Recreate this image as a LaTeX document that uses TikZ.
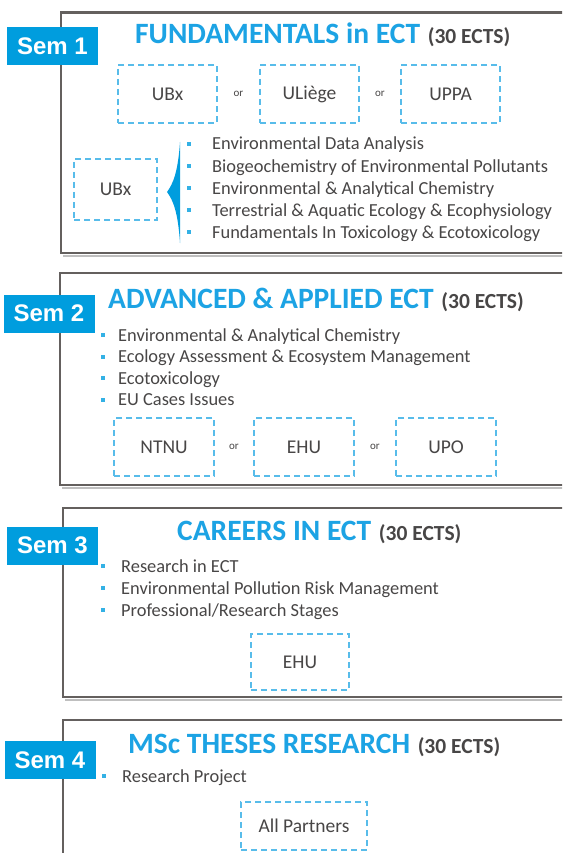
\documentclass[tikz,border=0pt]{standalone}
\usepackage{fontspec}
\setmainfont{Carlito}
\newfontfamily\semfont{Liberation Sans}
\definecolor{semblue}{RGB}{0,157,222}
\definecolor{titleblue}{RGB}{28,163,228}
\definecolor{boxblue}{RGB}{88,188,234}
\definecolor{txtgray}{RGB}{72,70,70}
\definecolor{framegray}{RGB}{100,96,94}
\newcommand{\ects}{\hspace{1pt}{\color{txtgray}\fontsize{21.5}{21.5}\selectfont(30 ECTS)}}
\tikzset{
  semframe/.style={draw=framegray,line width=2.6pt},
  semshadow/.style={draw=black!25,line width=2pt},
  semlabel/.style={fill=semblue,text=white,font=\semfont\bfseries\fontsize{24}{24}\selectfont,
    minimum width=91pt,minimum height=38pt,inner sep=0pt},
  unibox/.style={draw=boxblue,line width=2.2pt,dash pattern=on 6pt off 4pt,text=txtgray,
    font=\fontsize{19.5}{19.5}\selectfont,minimum width=99pt,minimum height=58pt,inner sep=0pt},
  ortext/.style={text=txtgray,font=\fontsize{11}{11}\selectfont,inner sep=0pt},
  titletext/.style={anchor=base west,inner sep=0pt,text=titleblue,font=\bfseries\fontsize{29.5}{29.5}\selectfont},
  listtext/.style={anchor=base west,inner sep=0pt,text=txtgray,font=\fontsize{18.4}{18.4}\selectfont},
  bdot/.style={fill=semblue!80,minimum size=4pt,inner sep=0pt}
}
\begin{document}
\begin{tikzpicture}[x=1pt,y=-1pt]
  \useasboundingbox (0,0) rectangle (562,853);
  \clip (0,0) rectangle (562,853);
  \fill[white] (0,0) rectangle (562,853);

  % rammer
  \foreach \top/\bot/\lft in {12.5/253/61, 273/485/60, 508/697/63, 720/900/63}{
    \draw[semshadow] (\lft+2,\bot+2.5) -- (600,\bot+2.5);
    \draw[semframe] (\lft,\top) rectangle (620,\bot);
  }

  % Sem 1
  \node[semlabel] (sem1) at (52.5,46) {Sem 1};
  \node[titletext] (title1) at (135,44) {FUNDAMENTALS in ECT \ects};
  \node[unibox] (ubx) at (167.5,94) {UBx};
  \node[unibox] (uliege) at (309.5,94) {ULiège};
  \node[unibox] (uppa) at (450.5,94) {UPPA};
  \path (ubx.east) -- node[ortext] (or1) {or} (uliege.west);
  \path (uliege.east) -- node[ortext] (or2) {or} (uppa.west);
  \node[unibox,minimum width=83pt,minimum height=61pt] (ubxb) at (115.5,189.5) {UBx};
  \fill[semblue] (180,142) .. controls (178,172) and (173,184) .. (167,192)
    .. controls (173,200) and (178,212) .. (180,243) -- cycle; %kile
  \foreach \txt [count=\i] in {Environmental Data Analysis,
      Biogeochemistry of Environmental Pollutants,
      Environmental \& Analytical Chemistry,
      Terrestrial \& Aquatic Ecology \& Ecophysiology,
      Fundamentals In Toxicology \& Ecotoxicology}{
    \node[bdot] (dota\i) at (189,122+22*\i) {};
    \node[listtext] (itema\i) at (212,128+22*\i) {\txt};
  }

  % Sem 2
  \node[semlabel] (sem2) at (49,313.5) {Sem 2};
  \node[titletext] (title2) at (108,308) {ADVANCED \& APPLIED ECT \ects};
  \foreach \txt [count=\i] in {Environmental \& Analytical Chemistry,
      Ecology Assessment \& Ecosystem Management,
      Ecotoxicology,
      EU Cases Issues}{
    \node[bdot] (dotb\i) at (103,313.5+21.5*\i) {};
    \node[listtext] (itemb\i) at (118,319.5+21.5*\i) {\txt};
  }
  \node[unibox,minimum width=100pt] (ntnu) at (164,447) {NTNU};
  \node[unibox,minimum width=100pt] (ehu) at (304,447) {EHU};
  \node[unibox,minimum width=100pt] (upo) at (446,447) {UPO};
  \path (ntnu.east) -- node[ortext] (or3) {or} (ehu.west);
  \path (ehu.east) -- node[ortext] (or4) {or} (upo.west);

  % Sem 3
  \node[semlabel] (sem3) at (52.5,545.5) {Sem 3};
  \node[titletext] (title3) at (177,540) {CAREERS IN ECT \ects};
  \foreach \txt [count=\i] in {Research in ECT,
      Environmental Pollution Risk Management,
      Professional/Research Stages}{
    \node[bdot] (dotc\i) at (103,544+22*\i) {};
    \node[listtext] (itemc\i) at (121,550+22*\i) {\txt};
  }
  \node[unibox,minimum width=98pt,minimum height=56pt] (ehub) at (300,662) {EHU};

  % Sem 4
  \node[semlabel] (sem4) at (50,760) {Sem 4};
  \node[titletext] (title4) at (128,753) {MSc THESES RESEARCH \ects};
  \node[bdot] (dotd1) at (104,776) {};
  \node[listtext] (itemd1) at (122,782) {Research Project};
  \node[unibox,minimum width=126pt,minimum height=48pt] (allp) at (304,826) {All Partners};
\end{tikzpicture}
\end{document}
